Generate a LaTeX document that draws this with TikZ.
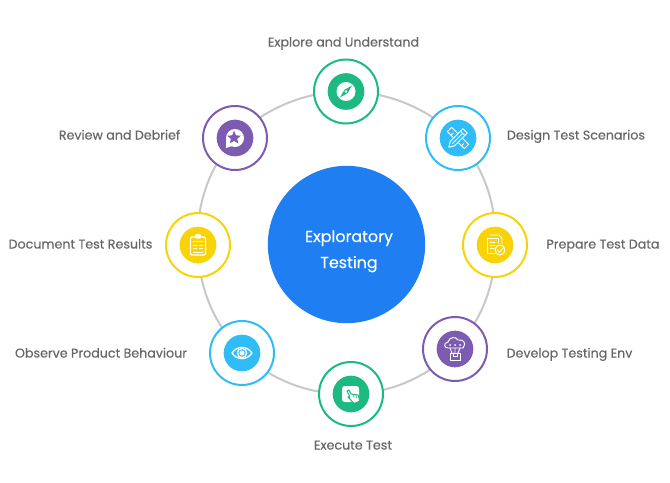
\documentclass[tikz,border=0pt]{standalone}
\usepackage{fontspec}
\setmainfont{Poppins}[FakeBold=0.35]
\usetikzlibrary{backgrounds}
\definecolor{cgreen}{HTML}{1CB981}
\definecolor{ccyan}{HTML}{30BCF7}
\definecolor{cyell}{HTML}{F7D308}
\definecolor{cpurp}{HTML}{7C5CB0}
\definecolor{cblue}{HTML}{1F7FF2}
\definecolor{cring}{HTML}{C8C8C8}
\definecolor{ctext}{HTML}{666666}
\tikzset{
  x=0.75pt,y=-0.75pt,
  stepnode/.style={circle,draw=#1,fill=white,line width=1.5pt,minimum size=48pt,inner sep=0pt},
  disc/.style={circle,fill=#1,minimum size=27.5pt,inner sep=0pt},
  lab/.style={text=ctext,font=\fontsize{9.5}{11}\selectfont,inner sep=0pt,anchor=base},
  hub/.style={circle,fill=cblue,minimum size=118pt,inner sep=0pt},
  hubtext/.style={text=white,font=\fontsize{11.9}{14}\selectfont,inner sep=0pt,anchor=base},
  ringarc/.style={draw=cring,line width=1.5pt,bend left=22.5,looseness=.885},
  ico/.style={draw=white,line width=.7pt,line join=round,line cap=round},
}
\begin{document}
\begin{tikzpicture}
\useasboundingbox (0,0) rectangle (670,482);
\node[hub] (hub) at (346.5,244.5) {};
\node[hubtext] (h1) at (349,242) {Exploratory};
\node[hubtext] (h2) at (349,268) {Testing};
\node[stepnode=cgreen] (n1) at (346,91.5) {};
\node[stepnode=ccyan]  (n2) at (458,138) {};
\node[stepnode=cyell]  (n3) at (495,245) {};
\node[stepnode=cpurp]  (n4) at (455,349) {};
\node[stepnode=cgreen] (n5) at (351,394) {};
\node[stepnode=ccyan]  (n6) at (242,353) {};
\node[stepnode=cyell]  (n7) at (198,245) {};
\node[stepnode=cpurp]  (n8) at (235,138) {};
\begin{scope}[on background layer]
\foreach \a/\b in {n1/n2,n2/n3,n3/n4,n4/n5,n5/n6,n6/n7,n7/n8,n8/n1}
  \path[ringarc] (\a.center) to (\b.center);
\end{scope}
\node[disc=cgreen] (d1) at (n1) {};
\node[disc=ccyan]  (d2) at (n2) {};
\node[disc=cyell]  (d3) at (n3) {};
\node[disc=cpurp]  (d4) at (n4) {};
\node[disc=cgreen] (d5) at (n5) {};
\node[disc=ccyan]  (d6) at (n6) {};
\node[disc=cyell]  (d7) at (n7) {};
\node[disc=cpurp]  (d8) at (n8) {};
% compass
\begin{scope}[shift={(346,91.5)}]
  \fill[white] (0,0) circle (9.5);
  \fill[cgreen] (6,-6) -- (1.6,1.6) -- (-6,6) -- (-1.6,-1.6) -- cycle;
  \fill[white] (0,0) circle (1.3);
\end{scope}
% pencil and ruler
\begin{scope}[shift={(458,138)}]
  \draw[ico,rotate=45] (-3,-12) rectangle (3,12);
  \draw[ico,rotate=45] (-3,-7) -- (0,-7) (-3,-2) -- (0,-2) (-3,3) -- (0,3) (-3,8) -- (0,8);
  \fill[ccyan,rotate=-45] (-3.6,-12) rectangle (3.6,9);
  \draw[ico,rotate=-45] (-3,8) -- (-3,-10) -- (3,-10) -- (3,8) -- (0,13) -- cycle;
  \draw[ico,rotate=-45] (-3,-6.5) -- (3,-6.5) (0,-6.5) -- (0,8);
\end{scope}
% prepared documents with check
\begin{scope}[shift={(495,245)}]
  \draw[ico] (-5,-10) -- (4,-10) -- (7,-7) -- (7,-1);
  \draw[ico] (1,8) -- (-8,8) -- (-8,-7) -- (3,-7) -- (3,-2);
  \draw[ico] (-5,-3) -- (0,-3) (-5,0) -- (0,0) (-5,3) -- (-1,3);
  \draw[ico] (5,5) circle (5);
  \draw[ico] (2.5,5) -- (4.5,7.5) -- (8.5,2.5);
\end{scope}
% cloud with box
\begin{scope}[shift={(455,349)}]
  \draw[ico] (-7,-1) .. controls (-11,-1) and (-12,-6) .. (-7,-7)
     .. controls (-6,-12) and (1,-13) .. (3,-9)
     .. controls (8,-10) and (11,-6) .. (9,-3)
     .. controls (9,-1) and (8,-1) .. (7,-1) -- cycle;
  \fill[white] (-5,-4) circle (1) (0,-4) circle (1) (5,-4) circle (1);
  \draw[ico] (-5,-1) -- (-3,4) (5,-1) -- (3,4) (0,-1) -- (0,4);
  \draw[ico] (-5,4) rectangle (5,11);
  \draw[ico] (-2,4) -- (-2,7) -- (2,7) -- (2,4);
\end{scope}
% touch screen with hand
\begin{scope}[shift={(351,394)}]
  \fill[white,rounded corners=2] (-9,-8) rectangle (8,8);
  \draw[cgreen,fill=white,line width=.8pt,line join=round]
    (-4,-3) -- (-2,-4) -- (0,0) -- (7,1) -- (9,7) -- (3,9.5) -- (-3,3) -- (-1,3) -- cycle;
  \draw[cgreen,line width=.5pt,line cap=round] (2.5,1) -- (3,3.5) (5,1.5) -- (5.5,4);
\end{scope}
% eye
\begin{scope}[shift={(242,353)}]
  \draw[ico,line width=1pt] (-10,0) .. controls (-5,-7.5) and (5,-7.5) .. (10,0) .. controls (5,7.5) and (-5,7.5) .. (-10,0) -- cycle;
  \draw[ico,line width=1pt] (0,0) circle (4.6);
  \fill[white] (0,0) circle (2.6);
\end{scope}
% clipboard
\begin{scope}[shift={(198,245)}]
  \draw[ico,line width=.9pt,rounded corners=1] (-7.5,-8) rectangle (7.5,10);
  \fill[white,rounded corners=.8] (-3,-11) rectangle (3,-6.5);
  \draw[ico] (-4.5,-3.5) -- (4.5,-3.5) (-4.5,0) -- (-1,0) (1.5,0) -- (4.5,0) (-4.5,3.5) -- (-1,3.5) (1.5,3.5) -- (4.5,3.5) (-4.5,7) -- (4.5,7);
\end{scope}
% review
\begin{scope}[shift={(235,138)}]
  \fill[white] (0,0) circle (9);
  \fill[white] (-9,0) -- (-9,10) -- (-3,8) -- cycle;
  \fill[cpurp,shift={(-.5,-.5)},scale=.9] (-.5,-7.5) -- (1.6,-2.4) -- (7,-2) -- (3,1.5) -- (4.2,6.5) -- (-.5,3.8) -- (-5.2,6.5) -- (-4,1.5) -- (-8,-2) -- (-2.6,-2.4) -- cycle;
\end{scope}
\node[lab] (t1) at (343.5,46.5) {Explore and Understand};
\node[lab] (t2) at (576,139.5) {Design Test Scenarios};
\node[lab] (t3) at (603,248.5) {Prepare Test Data};
\node[lab] (t4) at (569.5,357.5) {Develop Testing Env};
\node[lab] (t5) at (353,449.5) {Execute Test};
\node[lab] (t6) at (101,357.5) {Observe Product Behaviour};
\node[lab] (t7) at (80.5,248.5) {Document Test Results};
\node[lab] (t8) at (119.5,139.5) {Review and Debrief};
\end{tikzpicture}
\end{document}
